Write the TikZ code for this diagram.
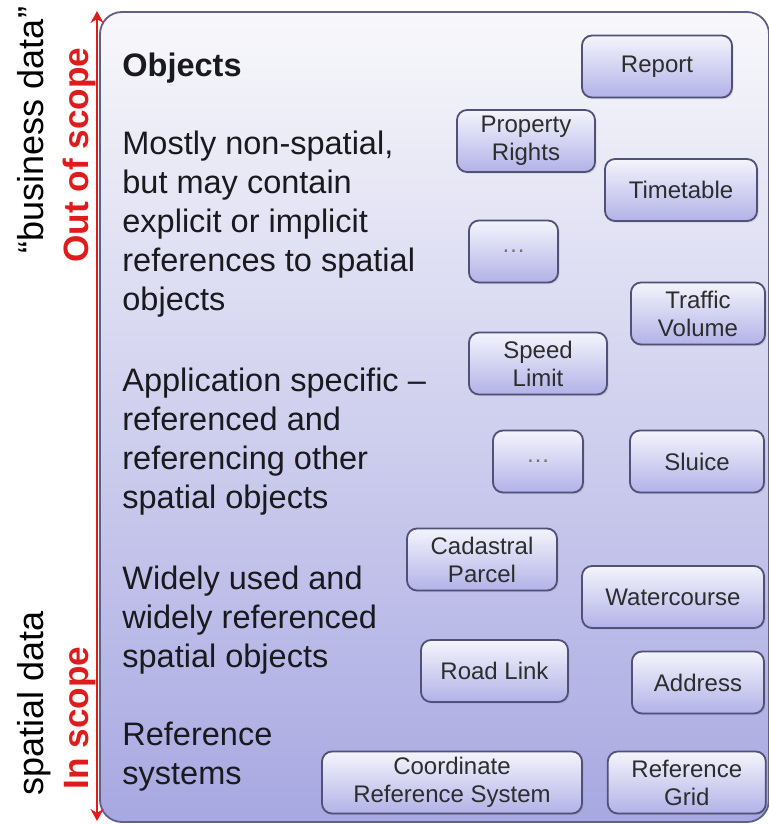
\documentclass[tikz,border=0pt]{standalone}
\usepackage{fontspec}
\setmainfont{Liberation Sans}
\usepackage{tikz}
\usetikzlibrary{arrows.meta, positioning, shadows}

\definecolor{panelTop}{RGB}{248,248,251}
\definecolor{panelBottom}{RGB}{168,168,226}
\definecolor{panelLine}{RGB}{95,95,135}
\definecolor{boxTop}{RGB}{244,244,252}
\definecolor{boxBottom}{RGB}{178,178,232}
\definecolor{boxLine}{RGB}{80,80,120}
\definecolor{boxText}{RGB}{45,45,45}
\definecolor{mainText}{RGB}{25,25,30}
\definecolor{scopeRed}{RGB}{222,28,28}

\begin{document}
\begin{tikzpicture}[
    x=0.5pt, y=-0.5pt,
    panel/.style={draw=panelLine, line width=0.9pt, rounded corners=11pt, top color=panelTop, bottom color=panelBottom},
    objbox/.style={rectangle, draw=boxLine, line width=0.9pt, rounded corners=5pt, top color=boxTop, bottom color=boxBottom, minimum height=31pt, inner sep=2pt, align=center, text=boxText, font=\fontsize{12}{14}\selectfont, drop shadow={opacity=0.2, shadow xshift=0.8pt, shadow yshift=-0.8pt}},
    dotsbox/.style={objbox, text=gray!90!black, font=\fontsize{12}{14}\selectfont},
    para/.style={anchor=west, inner sep=0pt, align=left, text=mainText, font=\fontsize{16.25}{19.5}\selectfont},
    sidelabel/.style={rotate=90, anchor=base, inner sep=0pt, text=black, font=\fontsize{18}{20}\selectfont},
    scopelabel/.style={rotate=90, anchor=base, inner sep=0pt, text=scopeRed, font=\bfseries\fontsize{17.6}{20}\selectfont},
    scopearrow/.style={{Stealth[length=6pt,width=6.5pt]}-{Stealth[length=6pt,width=6.5pt]}, line width=1.1pt, draw=scopeRed}
]
\useasboundingbox (0,0) rectangle (769,824);

% Hintergrund
\draw[panel] (100,12) rectangle (769,822);

% Scope-Pfeil
\coordinate (scopeTop) at (97,11);
\coordinate (scopeBot) at (97,821);
\draw[scopearrow] (scopeTop) -- (scopeBot);

\node[sidelabel] (business) at (43,130) {“business data”};
\node[sidelabel] (spatialdata) at (43,703) {spatial data};
\node[scopelabel] (outscope) at (88,155) {Out of scope};
\node[scopelabel] (inscope) at (88,718) {In scope};

% Ebenen
\node[para] (objhead) at (122,68) {\textbf{Objects}};
\node[para] (nonspatial) at (122,224.5) {Mostly non-spatial,\\but may contain\\explicit or implicit\\references to spatial\\objects};
\node[para] (appspec) at (122,441.5) {Application specific –\\referenced and\\referencing other\\spatial objects};
\node[para] (widely) at (122,620) {Widely used and\\widely referenced\\spatial objects};
\node[para] (refsys) at (122,757) {Reference\\systems};

% Objekte
\node[objbox, minimum width=75pt] (report) at (657,66.5) {Report};
\node[objbox, minimum width=69pt] (rights) at (526,141) {Property\\Rights};
\node[objbox, minimum width=76pt] (timetable) at (681,190) {Timetable};
\node[dotsbox, minimum width=44.5pt] (moreA) at (513.5,251.5) {\ldots};
\node[objbox, minimum width=67pt] (traffic) at (698,313.5) {Traffic\\Volume};
\node[objbox, minimum width=69pt] (speed) at (538,363.5) {Speed\\Limit};
\node[dotsbox, minimum width=45pt] (moreB) at (538,461.5) {\ldots};
\node[objbox, minimum width=67pt] (sluice) at (697,461.5) {Sluice};
\node[objbox, minimum width=75pt] (parcel) at (482,559.5) {Cadastral\\Parcel};
\node[objbox, minimum width=91pt] (water) at (673,597) {Watercourse};
\node[objbox, minimum width=73.5pt] (road) at (494.5,671) {Road Link};
\node[objbox, minimum width=66pt] (address) at (698,682.5) {Address};
\node[objbox, minimum width=130pt] (crs) at (452,782.5) {Coordinate\\Reference System};
\node[objbox, minimum width=79pt, right=12pt of crs] (grid) {Reference\\Grid};

\end{tikzpicture}
\end{document}
